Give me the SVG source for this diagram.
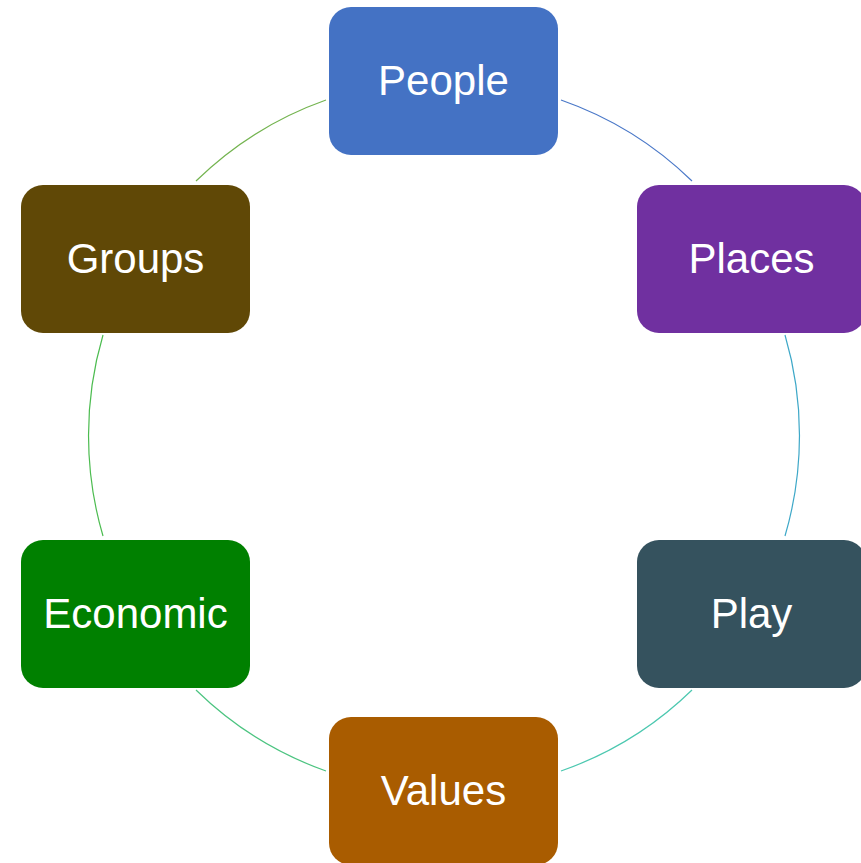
<svg xmlns="http://www.w3.org/2000/svg" width="861" height="863" viewBox="0 0 861 863">
<style>
.box{stroke:none}
.lbl{font-family:"Liberation Sans",Arial,sans-serif;font-size:42px;fill:#ffffff;text-anchor:middle}
.arc{fill:none;stroke-width:1.2}
</style>
<rect width="861" height="863" fill="#ffffff"/>
<g id="connectors">
<path class="arc" stroke="#4a78c8" d="M561,100 A356,356 0 0 1 692,181"/>
<path class="arc" stroke="#3ea8c8" d="M785,335 A356,356 0 0 1 785,536"/>
<path class="arc" stroke="#4cc8b0" d="M692,690 A356,356 0 0 1 561,771"/>
<path class="arc" stroke="#4cc480" d="M326,771 A356,356 0 0 1 196,690"/>
<path class="arc" stroke="#4cbc50" d="M103,536 A356,356 0 0 1 103,335"/>
<path class="arc" stroke="#74b450" d="M196,181 A356,356 0 0 1 326,100"/>
</g>
<g id="people"><rect class="box" x="329" y="7" width="229" height="148" rx="22" fill="#4472c4"/><text class="lbl" x="443.5" y="95">People</text></g>
<g id="places"><rect class="box" x="637" y="185" width="229" height="148" rx="22" fill="#7030a0"/><text class="lbl" x="751.5" y="273">Places</text></g>
<g id="play"><rect class="box" x="637" y="540" width="229" height="148" rx="22" fill="#35525e"/><text class="lbl" x="751.5" y="628">Play</text></g>
<g id="values"><rect class="box" x="329" y="717" width="229" height="148" rx="22" fill="#a95c00"/><text class="lbl" x="443.5" y="805">Values</text></g>
<g id="economic"><rect class="box" x="21" y="540" width="229" height="148" rx="22" fill="#008000"/><text class="lbl" x="135.5" y="628">Economic</text></g>
<g id="groups"><rect class="box" x="21" y="185" width="229" height="148" rx="22" fill="#604806"/><text class="lbl" x="135.5" y="273">Groups</text></g>
</svg>
